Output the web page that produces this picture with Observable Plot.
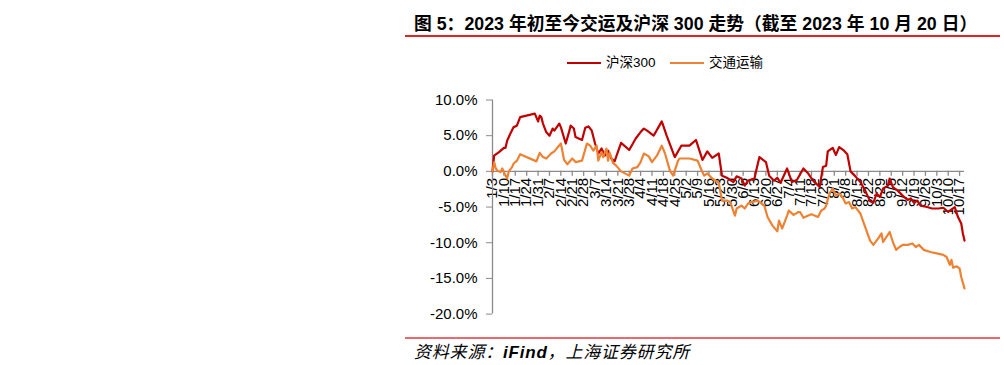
<!DOCTYPE html>
<html><head><meta charset="utf-8">
<script src="https://cdn.jsdelivr.net/npm/d3@7"></script>
<script src="https://cdn.jsdelivr.net/npm/@observablehq/plot@0.6"></script>
<style>
body{margin:0;background:#fff;}
#wrap{position:relative;width:1004px;height:365px;overflow:hidden;}
#chart{position:absolute;left:0;top:0;}
.abs{position:absolute;white-space:nowrap;}
#title{left:414px;top:13px;font:bold 17.8px/22px "Liberation Sans","Noto Sans CJK SC",sans-serif;color:#000;}
#tline{left:405px;top:35px;width:595px;height:2px;background:#E3231F;}
#bline{left:405px;top:337px;width:595px;height:2px;background:#EE6A6A;}
#source{left:414px;top:342px;font:italic 17px/21px "Liberation Sans","Noto Sans CJK SC",sans-serif;letter-spacing:0.8px;color:#000;}
.sw{height:2px;top:62px;width:34px;}
.lt{top:54px;font:13.5px/18px "Liberation Sans","Noto Sans CJK SC",sans-serif;color:#000;}
</style></head>
<body>
<div id="wrap">
  <div id="chart"></div>
  <div id="title" class="abs">图 5：2023 年初至今交运及沪深 300 走势（截至 2023 年 10 月 20 日）</div>
  <div id="tline" class="abs"></div>
  <div class="abs sw" style="left:567px;background:#C00000"></div>
  <div class="abs lt" style="left:606px">沪深300</div>
  <div class="abs sw" style="left:670px;background:#EE8234"></div>
  <div class="abs lt" style="left:709px">交通运输</div>
  <div id="bline" class="abs"></div>
  <div id="source" class="abs">资料来源：<b>iFind</b>，上海证券研究所</div>
</div>
<script>
const seriesNames = ["沪深300", "交通运输"];
const seriesColors = ["#C00000", "#EE8234"];

const hs300Dates = ["01-03","01-04","01-07","01-10","01-11","01-12","01-14","01-16","01-18","01-20","01-29","01-31","02-01","02-02","02-03","02-05","02-07","02-09","02-10","02-13","02-14","02-17","02-19","02-20","02-22","02-23","02-25","02-27","03-01","03-03","03-05","03-07","03-09","03-11","03-13","03-15","03-17","03-19","03-23","03-28","04-01","04-04","04-06","04-08","04-12","04-15","04-17","04-20","04-25","04-29","05-04","05-08","05-12","05-15","05-18","05-22","05-24","05-27","05-31","06-02","06-05","06-07","06-09","06-13","06-14","06-16","06-20","06-22","06-25","06-27","06-29","07-03","07-06","07-09","07-13","07-16","07-19","07-23","07-25","07-27","07-28","07-31","08-02","08-04","08-07","08-09","08-11","08-14","08-17","08-20","08-23","08-25","08-27","08-29","08-31","09-03","09-04","09-06","09-09","09-12","09-15","09-17","09-19","09-21","09-23","09-27","09-30","10-04","10-07","10-10","10-11","10-14","10-16","10-18","10-19","10-20"];
const hs300Values = [0.0,2.2,2.7,3.3,3.3,4.3,5.3,6.2,6.4,7.6,8.1,7.0,7.8,7.6,6.7,5.5,5.0,6.0,5.7,6.7,6.2,3.9,5.5,6.4,6.0,4.8,4.6,4.4,6.1,6.3,5.7,3.9,2.5,3.2,2.2,2.9,1.8,1.4,4.0,3.0,4.6,5.5,6.0,5.7,5.0,6.2,7.0,5.0,2.0,3.6,3.6,4.4,1.6,2.8,1.9,2.5,-0.6,-0.9,-1.5,-0.7,-1.0,-2.0,-1.3,-1.0,0.1,2.0,1.3,-0.6,-1.3,-0.9,-1.6,0.4,-1.5,-1.2,0.4,-0.3,-1.3,-2.2,0.6,0.8,2.8,3.3,2.3,3.4,2.9,2.4,0.0,-0.7,-1.5,-2.7,-4.2,-4.4,-3.1,-3.6,-2.4,-2.0,-1.0,-2.2,-2.7,-3.4,-4.0,-3.8,-4.4,-4.1,-4.8,-5.0,-5.2,-5.2,-5.1,-5.7,-5.5,-5.0,-6.4,-7.3,-8.7,-9.7];

const transDates = ["01-03","01-04","01-05","01-06","01-08","01-09","01-11","01-12","01-13","01-15","01-16","01-18","01-20","01-30","02-01","02-03","02-05","02-08","02-10","02-14","02-16","02-18","02-21","02-23","02-27","03-02","03-04","03-06","03-08","03-09","03-11","03-12","03-14","03-15","03-16","03-18","03-20","03-23","03-28","03-30","04-02","04-04","04-06","04-09","04-11","04-14","04-17","04-19","04-22","04-24","04-27","04-28","05-04","05-09","05-11","05-13","05-15","05-18","05-22","05-24","05-27","05-29","06-01","06-02","06-05","06-07","06-09","06-11","06-15","06-19","06-21","06-24","06-27","06-28","06-30","07-03","07-04","07-07","07-10","07-11","07-13","07-16","07-18","07-22","07-24","07-26","07-27","07-29","07-31","08-02","08-04","08-06","08-08","08-10","08-12","08-14","08-17","08-20","08-23","08-25","08-28","08-30","08-31","09-02","09-04","09-06","09-08","09-10","09-12","09-15","09-18","09-20","09-22","09-25","09-29","10-03","10-07","10-09","10-11","10-12","10-13","10-15","10-17","10-18","10-20"];
const transValues = [0.0,1.3,0.4,0.1,-0.1,0.4,-0.6,-1.0,0.0,0.6,1.1,1.5,2.4,1.4,2.6,2.0,1.8,2.5,2.8,3.9,1.6,1.0,1.8,1.3,1.5,3.9,3.6,2.9,3.6,1.5,2.7,2.0,3.2,1.5,2.6,1.2,0.8,0.0,-0.6,0.4,0.6,1.3,2.5,2.1,1.3,2.2,3.6,2.5,0.1,-0.6,1.5,1.8,1.8,1.5,0.4,-0.6,-0.3,-1.0,-1.6,-4.1,-4.1,-4.3,-6.2,-5.2,-4.8,-5.2,-4.5,-4.3,-4.1,-4.8,-6.4,-7.6,-8.4,-6.9,-8.0,-6.2,-5.5,-6.1,-5.7,-5.7,-6.5,-6.2,-6.0,-6.4,-5.5,-5.2,-4.8,-3.1,-2.4,-3.4,-3.1,-3.6,-4.5,-4.3,-5.2,-5.0,-5.9,-7.8,-9.7,-10.3,-9.4,-8.7,-9.9,-9.2,-8.5,-9.9,-11.0,-10.6,-10.3,-10.3,-10.1,-10.6,-10.3,-11.0,-11.3,-11.5,-11.7,-12.0,-13.1,-12.4,-13.5,-13.3,-13.6,-14.8,-16.4];

const xTickLabels = ["1/3","1/10","1/17","1/24","1/31","2/7","2/14","2/21","2/28","3/7","3/14","3/21","3/28","4/4","4/11","4/18","4/25","5/2","5/9","5/16","5/23","5/30","6/6","6/13","6/20","6/27","7/4","7/11","7/18","7/25","8/1","8/8","8/15","8/22","8/29","9/5","9/12","9/19","9/26","10/3","10/10","10/17"];
const yTicks = [-20, -15, -10, -5, 0, 5, 10];
const xDomainLabels = ["01-03", "10-20"];

const toDate = s => new Date(`2023-${s}T00:00:00Z`);
const fromMD = s => { const [m, d] = s.split("/").map(Number); return new Date(Date.UTC(2023, m - 1, d)); };

const hs300 = hs300Dates.map((d, i) => ({date: toDate(d), value: hs300Values[i]}));
const trans = transDates.map((d, i) => ({date: toDate(d), value: transValues[i]}));
const xTicks = xTickLabels.map(l => ({date: fromMD(l), label: l}));
const xDomain = xDomainLabels.map(toDate);

const axisColor = "#8a8a8a";
const fontFam = "'Liberation Sans', Arial, sans-serif";

const chart = Plot.plot({
  width: 1004,
  height: 365,
  marginLeft: 492,
  marginRight: 40,
  marginTop: 99.5,
  marginBottom: 51.4,
  style: {fontFamily: fontFam, fontSize: "15px", color: "#000", background: "transparent"},
  x: {type: "utc", domain: xDomain, axis: null},
  y: {domain: [-20, 10]},
  marks: [
    Plot.text(xTicks, {x: "date", y: () => 0, text: "label", rotate: -90, textAnchor: "end", dy: 6.5, fill: "#000", fontSize: 15}),
    Plot.ruleY([0], {stroke: axisColor, strokeWidth: 1.3}),
    Plot.ruleX(xTicks, {x: "date", y1: 0, y2: -0.7, stroke: axisColor, strokeWidth: 1.3}),
    Plot.ruleX([xDomain[0]], {stroke: axisColor, strokeWidth: 1.3}),
    Plot.axisY({ticks: yTicks, tickFormat: d => d.toFixed(1) + "%", tickSize: 6, tickPadding: 9, stroke: axisColor, fill: "#000", fontSize: 15, label: null}),
    Plot.line(hs300, {x: "date", y: "value", stroke: seriesColors[0], strokeWidth: 2.2, strokeLinejoin: "round"}),
    Plot.line(trans, {x: "date", y: "value", stroke: seriesColors[1], strokeWidth: 2.2, strokeLinejoin: "round"})
  ]
});
document.getElementById("chart").appendChild(chart);
</script>
</body></html>
